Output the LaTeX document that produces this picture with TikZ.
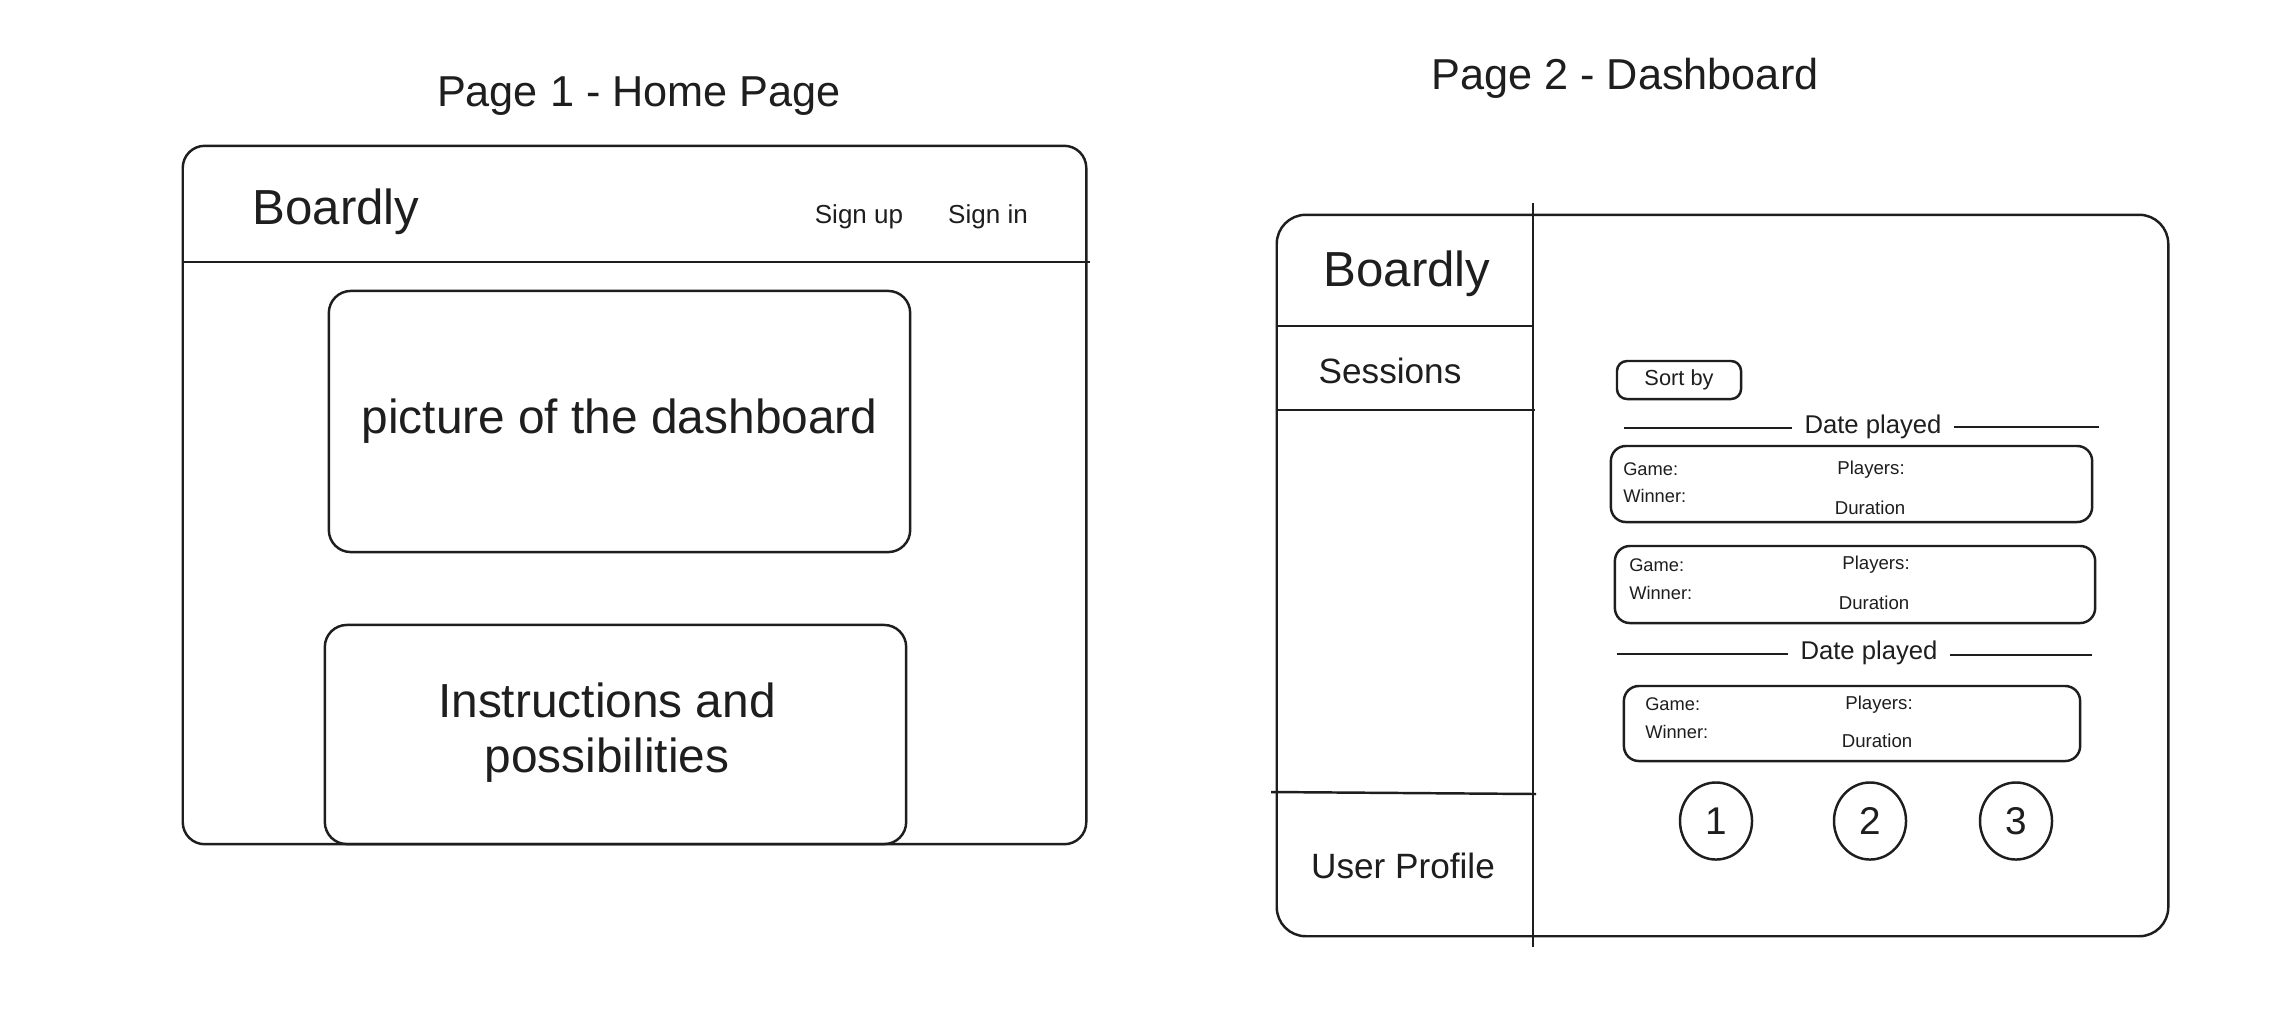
\documentclass[tikz,border=0pt]{standalone}
\usepackage{fontspec}
\setmainfont{Liberation Sans}
\usetikzlibrary{shapes.geometric}
\definecolor{ink}{HTML}{1E1E1E}
\newcommand{\fs}[1]{\fontsize{#1}{#1}\selectfont}
\begin{document}
\begin{tikzpicture}[x=0.01cm, y=-0.01cm, line width=0.7pt, draw=ink, text=ink,
  frame/.style={draw, rounded corners=#1, inner sep=0pt},
  rule/.style={draw=ink, line width=0.7pt},
  title/.style={font=\fs{12.3pt}},
  brand/.style={font=\fs{14pt}},
  big/.style={font=\fs{13.6pt}, align=center},
  menu/.style={font=\fs{7.4pt}},
  side/.style={font=\fs{10pt}},
  sep/.style={font=\fs{7.3pt}},
  small/.style={font=\fs{5.3pt}},
  field/.style={font=\fs{5.2pt}, anchor=west, inner sep=0pt},
  pagebtn/.style={draw, ellipse, minimum width=0.72cm, minimum height=0.77cm, inner sep=0pt, font=\fs{11pt}}]
\useasboundingbox[fill=white] (0,0) rectangle (2294,1014);

% ---------------- Page 1: home page ----------------
\node[title] (t1) at (639,96) {Page 1 - Home Page};
\node[frame=0.22cm, minimum width=9.03cm, minimum height=6.98cm] (home) at (634.5,495) {};
\draw[rule] (home.west |- 0,262) -- (1090,262);
\node[brand] (logo1) at (336,212) {Boardly};
\node[menu] (signup) at (859,217) {Sign up};
\node[menu] (signin) at (988,217) {Sign in};
\node[frame=0.22cm, minimum width=5.81cm, minimum height=2.61cm, big] (shot) at (619.5,421.5) {picture of the dashboard};
\node[frame=0.22cm, minimum width=5.81cm, minimum height=2.19cm] (info) at (615.5,734.5) {};
\node[big] (infotext) at (607,733) {Instructions and\\[2pt]possibilities};

% ---------------- Page 2: dashboard ----------------
\node[title] (t2) at (1625,78) {Page 2 - Dashboard};
\node[frame=0.29cm, minimum width=8.91cm, minimum height=7.21cm] (dash) at (1722.5,575.5) {};
\draw[rule] (1533,203) -- (1533,947);
\draw[rule] (dash.west |- 0,326) -- (1533,326);
\draw[rule] (dash.west |- 0,410) -- (1535,410);
\draw[rule] (1271,792) -- (1536,794);
\node[brand] (logo2) at (1407,274) {Boardly};
\node[side] (sessions) at (1390,371) {Sessions};
\node[side] (profile) at (1403,866) {User Profile};

\node[frame=0.1cm, minimum width=1.24cm, minimum height=0.38cm, font=\fs{6.2pt}] (sort) at (1679,380) {Sort by};

% first date group
\node[sep] (date1) at (1873,427) {Date played};
\draw[rule] (1624,428) -- (date1.west |- 0,428);
\draw[rule] (date1.east |- 0,427) -- (2099,427);

\node[frame=0.15cm, minimum width=4.81cm, minimum height=0.76cm] (card1) at (1851.5,484) {};
\node[field] (g1) at (1622,469) {Game:};
\node[field] (w1) at (1622,496) {Winner:};
\node[small] (p1) at (1871,470) {Players:};
\node[small] (d1) at (1870,508) {Duration};

\node[frame=0.15cm, minimum width=4.80cm, minimum height=0.77cm] (card2) at (1855,584.5) {};
\node[field] (g2) at (1628,565) {Game:};
\node[field] (w2) at (1628,593) {Winner:};
\node[small] (p2) at (1876,565) {Players:};
\node[small] (d2) at (1874,603) {Duration};

% second date group
\node[sep] (date2) at (1869,653) {Date played};
\draw[rule] (1617,654) -- (date2.west |- 0,654);
\draw[rule] (date2.east |- 0,655) -- (2092,655);

\node[frame=0.15cm, minimum width=4.56cm, minimum height=0.75cm] (card3) at (1852,723.5) {};
\node[field] (g3) at (1644,704) {Game:};
\node[field] (w3) at (1644,732) {Winner:};
\node[small] (p3) at (1879,705) {Players:};
\node[small] (d3) at (1877,741) {Duration};

% pagination
\node[pagebtn] (pg1) at (1716,821) {1};
\node[pagebtn] (pg2) at (1870,821) {2};
\node[pagebtn] (pg3) at (2016,821) {3};
\end{tikzpicture}
\end{document}
